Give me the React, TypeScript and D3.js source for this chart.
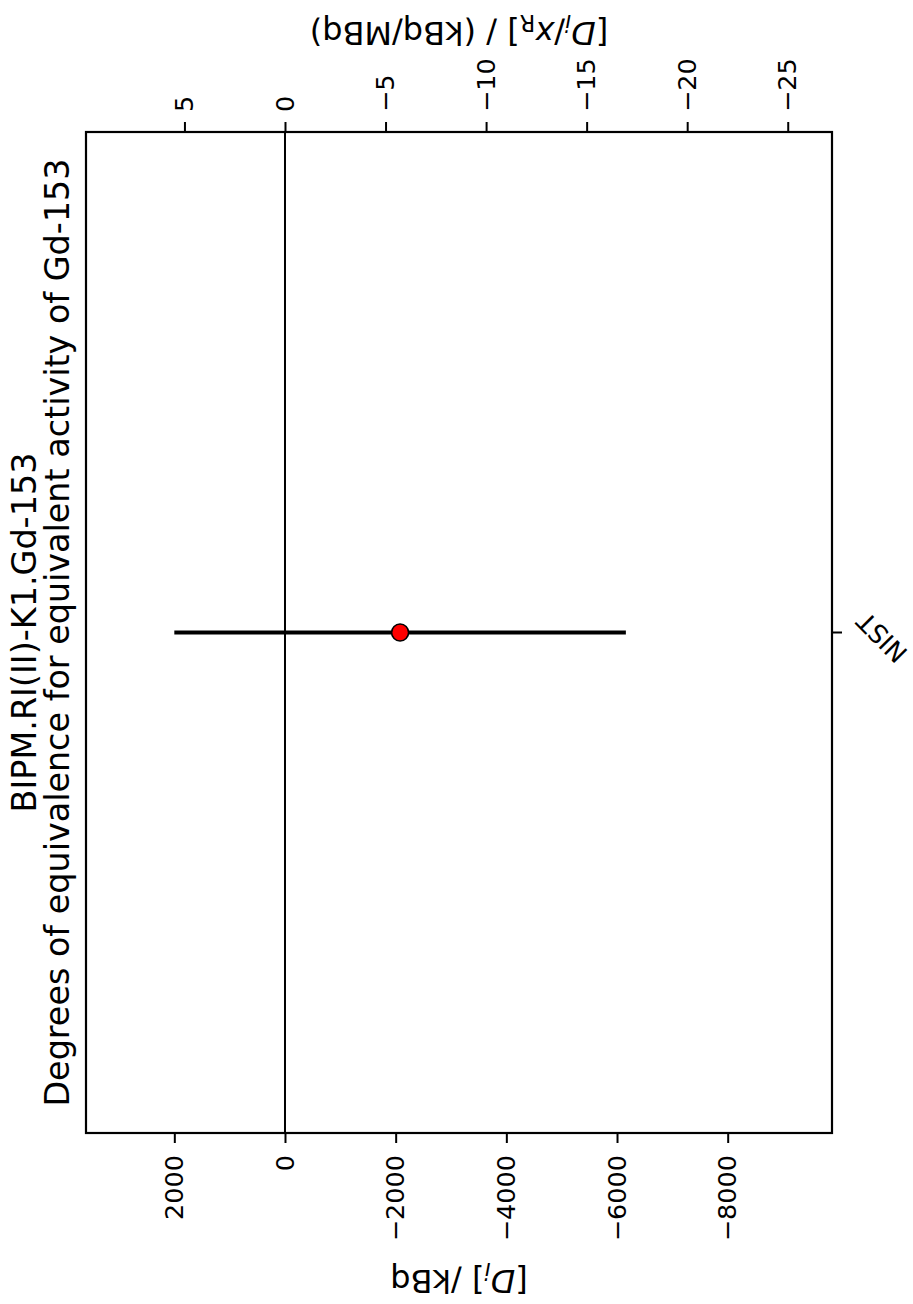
import React, { useEffect, useRef } from 'react'
import * as d3 from 'd3'

// chart values
const labs = ['NIST']
const degrees = [-2080] // D_i in kBq
const uncertainties = [4080] // expanded uncertainty in kBq
const refActivity = 363.4 // x_R in MBq
const leftDomain = [3596, -9885]
const leftTicks = [2000, 0, -2000, -4000, -6000, -8000]
const rightTicks = [5, 0, -5, -10, -15, -20, -25]
const titleLines = ['BIPM.RI(II)-K1.Gd-153', 'Degrees of equivalence for equivalent activity of Gd-153']

const W = 913
const H = 1304
const FONT = 'DejaVu Sans, sans-serif'
const TICK_SIZE = 25.5
const LABEL_SIZE = 32

const App = () => {
  const ref = useRef<SVGSVGElement | null>(null)

  useEffect(() => {
    const svg = d3.select(ref.current)
    svg.selectAll('*').remove()

    // the figure is drawn landscape and then turned a quarter turn anticlockwise
    const g = svg.append('g').attr('transform', `translate(0,${H}) rotate(-90)`)

    const margin = { left: 171, right: H - 1172, top: 86, bottom: W - 832 }
    const x0 = margin.left
    const x1 = H - margin.right
    const y0 = margin.top
    const y1 = W - margin.bottom

    const xScale = d3.scaleBand().domain(labs).range([x0, x1])
    const yScale = d3.scaleLinear().domain(leftDomain).range([y0, y1])
    const yRight = d3.scaleLinear()
      .domain(leftDomain.map((v) => v / refActivity))
      .range([y0, y1])

    // zero line
    g.append('line')
      .attr('x1', x0).attr('x2', x1)
      .attr('y1', yScale(0)).attr('y2', yScale(0))
      .attr('stroke', '#000').attr('stroke-width', 2)

    // error bars and points
    labs.forEach((lab, i) => {
      const cx = xScale(lab)! + xScale.bandwidth() / 2
      g.append('line')
        .attr('x1', cx).attr('x2', cx)
        .attr('y1', yScale(degrees[i] + uncertainties[i]))
        .attr('y2', yScale(degrees[i] - uncertainties[i]))
        .attr('stroke', '#000').attr('stroke-width', 4)
      g.append('circle')
        .attr('cx', cx).attr('cy', yScale(degrees[i]))
        .attr('r', 8.5)
        .attr('fill', '#ff0000')
        .attr('stroke', '#000').attr('stroke-width', 1.6)
    })

    const styleAxis = (sel: any) => {
      sel.select('.domain').remove()
      sel.selectAll('.tick line').attr('stroke', '#000').attr('stroke-width', 2)
      sel.selectAll('.tick text')
        .attr('font-family', FONT).attr('font-size', TICK_SIZE).attr('fill', '#000')
    }

    // left axis (bottom on screen)
    g.append('g')
      .attr('transform', `translate(${x0},0)`)
      .call(d3.axisLeft(yScale).tickValues(leftTicks).tickFormat(d3.format('d')).tickSize(10).tickPadding(12))
      .call(styleAxis)

    // right axis (top on screen)
    g.append('g')
      .attr('transform', `translate(${x1},0)`)
      .call(d3.axisRight(yRight).tickValues(rightTicks).tickFormat(d3.format('d')).tickSize(10).tickPadding(10))
      .call(styleAxis)

    // category axis
    const xAxis = g.append('g')
      .attr('transform', `translate(0,${y1})`)
      .call(d3.axisBottom(xScale).tickSize(10).tickFormat(() => ''))
      .call(styleAxis)
    labs.forEach((lab) => {
      const cx = xScale(lab)! + xScale.bandwidth() / 2
      xAxis.append('text')
        .attr('transform', `translate(${cx - 5},${50}) rotate(-45)`)
        .attr('text-anchor', 'middle')
        .attr('dominant-baseline', 'central')
        .attr('font-family', FONT).attr('font-size', TICK_SIZE).attr('fill', '#000')
        .text(lab)
    })

    // frame
    g.append('rect')
      .attr('x', x0).attr('y', y0)
      .attr('width', x1 - x0).attr('height', y1 - y0)
      .attr('fill', 'none').attr('stroke', '#000').attr('stroke-width', 2.2)

    // title
    const title = g.append('text')
      .attr('text-anchor', 'middle')
      .attr('font-family', FONT).attr('font-size', 33.4).attr('fill', '#000')
    titleLines.forEach((line, i) => {
      title.append('tspan')
        .attr('x', (x0 + x1) / 2)
        .attr('y', 36 + i * 33)
        .text(line)
    })

    const sub = LABEL_SIZE * 0.7
    const shift = LABEL_SIZE * 0.22

    // left axis label
    const ly = (y0 + y1) / 2
    const leftLabel = g.append('text')
      .attr('transform', `translate(34,${ly}) rotate(-90)`)
      .attr('text-anchor', 'middle')
      .attr('font-family', FONT).attr('font-size', LABEL_SIZE).attr('fill', '#000')
    leftLabel.append('tspan').text('[')
    leftLabel.append('tspan').attr('font-style', 'italic').text('D')
    leftLabel.append('tspan').attr('font-style', 'italic').attr('font-size', sub).attr('dy', shift).text('i')
    leftLabel.append('tspan').attr('dy', -shift).text('] /kBq')

    // right axis label
    const rightLabel = g.append('text')
      .attr('transform', `translate(${H - 22},${ly}) rotate(-90)`)
      .attr('text-anchor', 'middle')
      .attr('font-family', FONT).attr('font-size', LABEL_SIZE).attr('fill', '#000')
    rightLabel.append('tspan').text('[')
    rightLabel.append('tspan').attr('font-style', 'italic').text('D')
    rightLabel.append('tspan').attr('font-style', 'italic').attr('font-size', sub).attr('dy', shift).text('i')
    rightLabel.append('tspan').attr('dy', -shift).text('/')
    rightLabel.append('tspan').attr('font-style', 'italic').text('x')
    rightLabel.append('tspan').attr('font-size', sub).attr('dy', shift).text('R')
    rightLabel.append('tspan').attr('dy', -shift).text('] / (kBq/MBq)')
  }, [])

  return (
    <svg
      ref={ref}
      width={W}
      height={H}
      style={{ display: 'block', position: 'absolute', left: 0, top: 0, background: '#fff' }}
    />
  )
}

export default App
